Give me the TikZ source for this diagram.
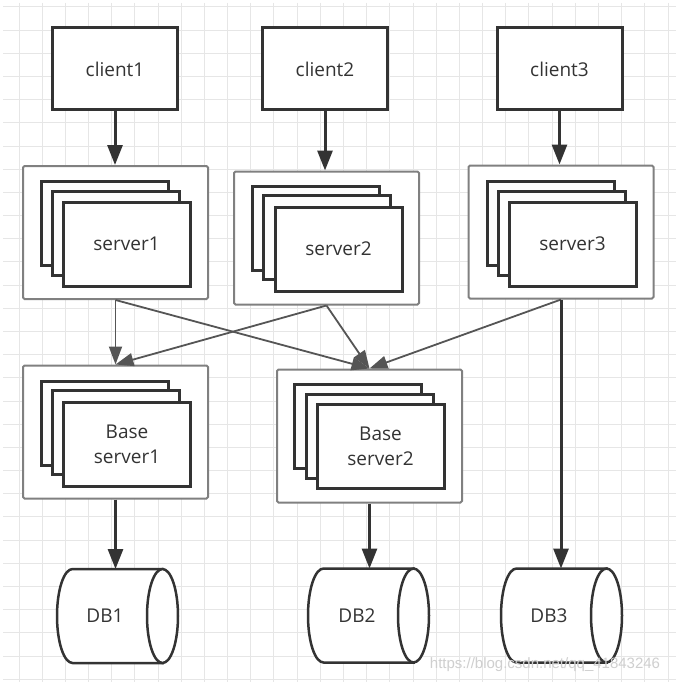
\documentclass[tikz,border=0pt]{standalone}
\usepackage{fontspec}
\setmainfont{Open Sans}
\newfontfamily\wmfont{Liberation Sans}
\usetikzlibrary{arrows.meta}
\definecolor{txt}{HTML}{333333}
\definecolor{edge}{HTML}{333333}
\definecolor{grp}{HTML}{808080}
\definecolor{thinc}{HTML}{555555}
\definecolor{gridc}{HTML}{E6E6E6}
\definecolor{wmc}{HTML}{CFCFCF}
\newcommand\dbdraw[1]{%
  \path[fill=white,draw=edge,line width=2.5pt]
    ([xshift=15.5pt]#1.north west) -- ([xshift=-15.5pt]#1.north east)
    -- ([xshift=-15.5pt]#1.south east) -- ([xshift=15.5pt]#1.south west)
    arc[start angle=270,end angle=90,x radius=15.5pt,y radius=47pt] -- cycle;
  \draw[fill=white,draw=edge,line width=2.5pt] ([xshift=-15.5pt]#1.east) ellipse [x radius=15.5pt, y radius=47pt];
}
\begin{document}
\begin{tikzpicture}[x=1pt,y=-1pt,
  every node/.style={font=\fontsize{19}{25}\selectfont, text=txt},
  gridline/.style={draw=gridc, line width=1pt},
  client/.style={draw=edge, line width=3pt, fill=white, minimum width=125pt, minimum height=82pt, inner sep=0pt},
  group/.style={draw=grp, line width=2pt, fill=white, rounded corners=1.5pt, minimum width=185pt, minimum height=133pt, inner sep=0pt},
  card/.style={draw=edge, line width=3pt, fill=white, minimum width=127pt, minimum height=84pt, inner sep=0pt, align=center},
  dbnode/.style={draw=none, minimum width=121pt, minimum height=94pt, inner sep=0pt, outer sep=0pt},
  heavy/.style={draw=edge, line width=3pt, -{Triangle[length=20pt,width=15pt]}},
  light/.style={draw=thinc, line width=1.8pt, -{Triangle[length=18pt,width=13pt]}},
  wm/.style={font=\wmfont\fontsize{15}{15}\selectfont, text=wmc}
]
\useasboundingbox (0,0) rectangle (676,682);
\fill[white] (0,0) rectangle (676,682);
% grid
\foreach \k in {0,...,28} \draw[gridline] ({19+23.18*\k},3) -- ({19+23.18*\k},682);
\foreach \k in {0,...,29} \draw[gridline] (3,{7+23.18*\k}) -- (676,{7+23.18*\k});

% clients
\node[client] (c1) at (115,69) {client1};
\node[client] (c2) at (325,69) {client2};
\node[client] (c3) at (559.5,69) {client3};

% server groups
\node[group] (s1) at (115.5,232.5) {};
\node[card] (s1a) at (105,223.5) {};
\node[card] (s1b) at (115.5,233.5) {};
\node[card] (s1c) at (126.5,244) {server1};

\node[group] (s2) at (326.5,238) {};
\node[card] (s2a) at (316,228) {};
\node[card] (s2b) at (327,237.5) {};
\node[card] (s2c) at (338.5,249) {server2};

\node[group] (s3) at (561,232) {};
\node[card] (s3a) at (550.5,223.5) {};
\node[card] (s3b) at (561.5,233) {};
\node[card] (s3c) at (572.5,244) {server3};

% base servers
\node[group] (b1) at (115.5,432) {};
\node[card] (b1a) at (105,423) {};
\node[card] (b1b) at (115.5,432.5) {};
\node[card] (b1c) at (127,444) {Base\\server1};

\node[group] (b2) at (369.5,436) {};
\node[card] (b2a) at (358,426) {};
\node[card] (b2b) at (369.5,436) {};
\node[card] (b2c) at (380.5,446.5) {Base\\server2};

% databases
\node[dbnode] (db1) at (117.5,616) {};
\node[dbnode] (db2) at (368.5,615.5) {};
\node[dbnode] (db3) at (561.5,615.5) {};
\dbdraw{db1}
\dbdraw{db2}
\dbdraw{db3}
\node (db1t) at (105,616) {DB1};
\node (db2t) at (357,616) {DB2};
\node (db3t) at (549,616) {DB3};

% connectors
\draw[heavy] (c1.south) -- (c1.south |- s1.north);
\draw[heavy] (c2.south) -- (c2.south |- s2.north);
\draw[heavy] (c3.south) -- (c3.south |- s3.north);

\draw[light] (s1.south) -- (b1.north);
\draw[light] (s1.south) -- (b2.north);
\draw[light] (s2.south) -- (b1.north);
\draw[light] (s2.south) -- (b2.north);
\draw[light] (s3.south) -- (b2.north);

\draw[heavy] (s3.south) -- (s3.south |- db3.north);
\draw[heavy] (b1.south) -- (b1.south |- db1.north);
\draw[heavy] (b2.south) -- (b2.south |- db2.north);

% watermark
\node[wm] (wmark) at (545,665) {https://blog.csdn.net/qq\_41843246};
\end{tikzpicture}
\end{document}
